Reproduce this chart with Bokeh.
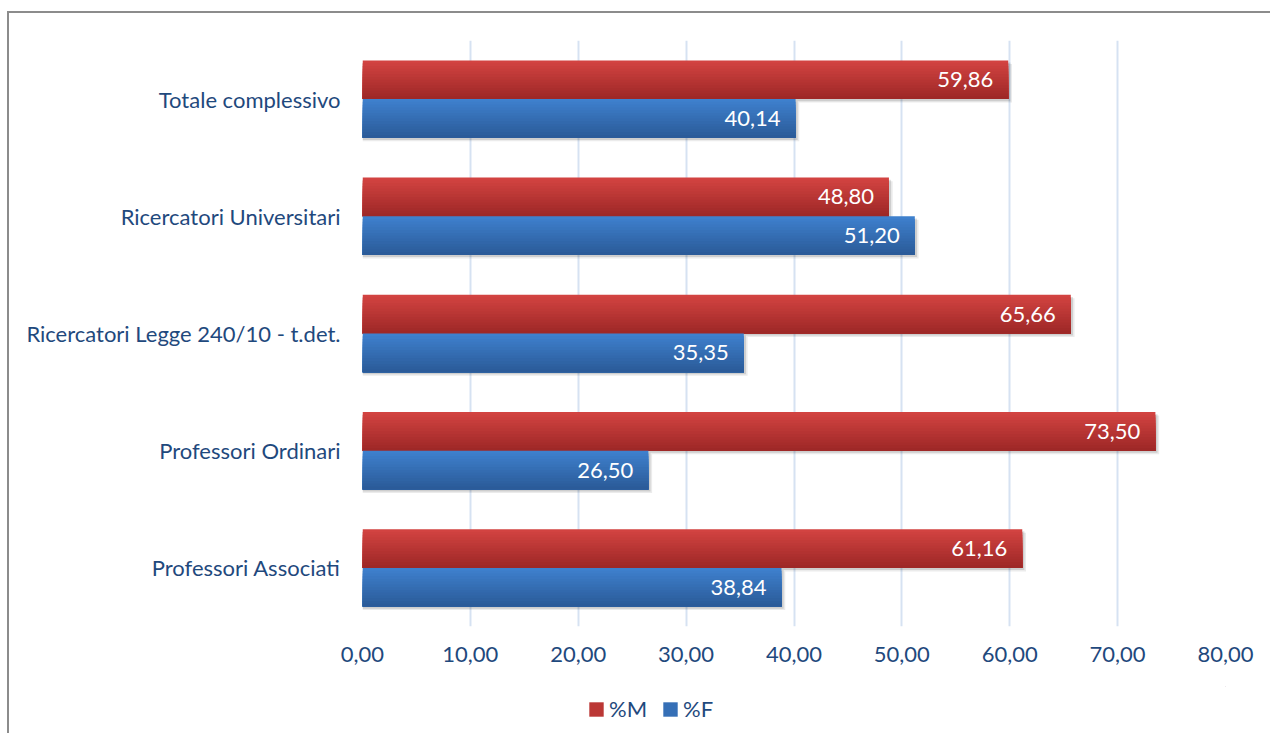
from bokeh.plotting import figure
from bokeh.layouts import column
from bokeh.models import (FactorRange, Range1d, FixedTicker, CustomJSTickFormatter,
                          Legend, LegendItem, ColumnDataSource)
from bokeh.transform import dodge
from bokeh.core.properties import value
from bokeh.embed import file_html
from bokeh.resources import INLINE

# Staff categories, listed top to bottom
categories = [
    "Totale complessivo",
    "Ricercatori Universitari",
    "Ricercatori Legge 240/10 - t.det.",
    "Professori Ordinari",
    "Professori Associati",
]
pct_m = [59.86, 48.80, 65.66, 73.50, 61.16]
pct_f = [40.14, 51.20, 35.35, 26.50, 38.84]
series_names = ["%M", "%F"]
x_ticks = [0, 10, 20, 30, 40, 50, 60, 70, 80]

FONT = "Lato"
FONT_SIZE = "22px"
TEXT_BLUE = "#1F497D"

RED_TOP, RED_BOTTOM = "#D24341", "#9E2827"
BLUE_TOP, BLUE_BOTTOM = "#3E80CD", "#2B5B99"


def mix(c1, c2, t):
    a = [int(c1[i:i + 2], 16) for i in (1, 3, 5)]
    b = [int(c2[i:i + 2], 16) for i in (1, 3, 5)]
    return "#" + "".join(f"{round(x + (y - x) * t):02x}" for x, y in zip(a, b))


p = figure(
    width=1261, height=673,
    y_range=FactorRange(*categories[::-1]),
    x_range=Range1d(0, 80),
    output_backend="svg", toolbar_location=None,
    min_border_left=353, min_border_right=45,
    min_border_top=27, min_border_bottom=60,
)
p.outline_line_color = None
p.background_fill_color = "white"

# axes
p.xaxis.ticker = FixedTicker(ticks=x_ticks)
p.xaxis.formatter = CustomJSTickFormatter(code="return tick.toFixed(2).replace('.', ',');")
for ax in (p.xaxis, p.yaxis):
    ax.axis_line_color = None
    ax.major_tick_line_color = None
    ax.minor_tick_line_color = None
    ax.major_label_text_font = FONT
    ax.major_label_text_font_size = FONT_SIZE
    ax.major_label_text_color = TEXT_BLUE
p.xaxis.major_label_standoff = 14
p.yaxis.major_label_standoff = 16

p.ygrid.grid_line_color = None
p.xgrid.grid_line_color = "#D6E2F2"
p.xgrid.grid_line_width = 2

bar_h = 0.33
N = 14
series = [
    (pct_m, RED_TOP, RED_BOTTOM, bar_h / 2),
    (pct_f, BLUE_TOP, BLUE_BOTTOM, -bar_h / 2),
]

for vals, top, bottom, center in series:
    src = ColumnDataSource(dict(
        cat=categories, val=vals,
        lab=[f"{v:.2f}".replace(".", ",") for v in vals],
    ))
    # soft drop shadow
    for dx, dy, a in ((0.35, -0.03, 0.08), (0.2, -0.018, 0.12)):
        p.hbar(y=dodge("cat", center + dy, range=p.y_range), left=0,
               right=dodge("val", dx), height=bar_h, source=src,
               fill_color="#000000", fill_alpha=a, line_color=None)
    # vertical gradient: nested rectangles, each one reaching the bar's bottom edge
    bar_top = center + bar_h / 2
    bar_bot = center - bar_h / 2
    step = bar_h / N
    for k in range(N):
        t = k / (N - 1)
        top_k = bar_top - k * step
        p.hbar(y=dodge("cat", (top_k + bar_bot) / 2, range=p.y_range),
               left=0, right="val", height=top_k - bar_bot, source=src,
               fill_color=mix(top, bottom, t), line_color=None)
    p.text(x="val", y=dodge("cat", center, range=p.y_range), text="lab", source=src,
           x_offset=-15, text_align="right", text_baseline="middle",
           text_color="white", text_font=value(FONT), text_font_size=FONT_SIZE)

# legend strip under the chart (its frame lines up with the chart's frame)
lg = figure(
    width=1261, height=47, x_range=Range1d(0, 1), y_range=Range1d(0, 1),
    x_axis_type=None, y_axis_type=None, output_backend="svg",
    toolbar_location=None, min_border=0,
)
lg.outline_line_color = None
lg.grid.grid_line_color = None
# key swatches: glyphs kept outside the visible range, only their legend entries show
key_m = lg.hbar(y=[5], left=[5], right=[6], height=0.5,
                fill_color=mix(RED_TOP, RED_BOTTOM, 0.45), line_color=None)
key_f = lg.hbar(y=[5], left=[5], right=[6], height=0.5,
                fill_color=mix(BLUE_TOP, BLUE_BOTTOM, 0.45), line_color=None)
legend = Legend(
    items=[LegendItem(label=series_names[0], renderers=[key_m]),
           LegendItem(label=series_names[1], renderers=[key_f])],
    orientation="horizontal", location=(225, 11),
    border_line_color=None, background_fill_alpha=0,
    label_text_font=FONT, label_text_font_size=FONT_SIZE, label_text_color=TEXT_BLUE,
    glyph_width=18, glyph_height=18, padding=0, margin=0,
    spacing=14, label_standoff=4,
)
lg.add_layout(legend)

page = column(p, lg, spacing=0)
page.margin = (11, 0, 0, 7)
page.styles = {"border-top": "2px solid #8C8C8C", "border-left": "2px solid #8C8C8C"}

open("out.html", "w").write(file_html(page, INLINE))
